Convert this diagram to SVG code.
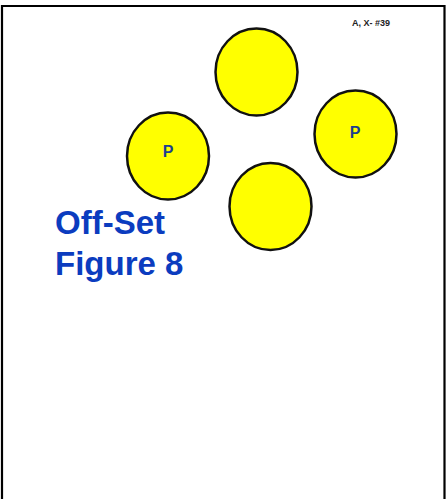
<svg xmlns="http://www.w3.org/2000/svg" width="446" height="499" viewBox="0 0 446 499">
<style>
.c{fill:#ffff00;stroke:#111;stroke-width:2.5}
.p{font-family:"Liberation Sans",Arial,sans-serif;font-weight:bold;font-size:16px;fill:#1c3f8f;text-anchor:middle}
.t{font-family:"Liberation Sans",Arial,sans-serif;font-weight:bold;font-size:33px;fill:#0b3cbf}
</style>
<rect x="0" y="0" width="446" height="499" fill="#fff"/>
<path d="M2 510 V6 H444.5 V510" fill="none" stroke="#000" stroke-width="2.2"/>
<text x="352" y="26" font-family="Liberation Sans,Arial,sans-serif" font-weight="bold" font-size="9" fill="#222">A, X- #39</text>
<g id="n-top"><ellipse class="c" cx="256.5" cy="72" rx="41" ry="43.5"/></g>
<g id="n-left"><ellipse class="c" cx="168" cy="156" rx="41" ry="43.5"/><text class="p" x="168" y="157">P</text></g>
<g id="n-right"><ellipse class="c" cx="355.5" cy="134" rx="41" ry="43.5"/><text class="p" x="355" y="138">P</text></g>
<g id="n-bottom"><ellipse class="c" cx="270.5" cy="206.5" rx="41" ry="43.5"/></g>
<g id="connectors"></g>
<text class="t" x="55" y="234">Off-Set</text>
<text class="t" x="55" y="275">Figure 8</text>
</svg>
